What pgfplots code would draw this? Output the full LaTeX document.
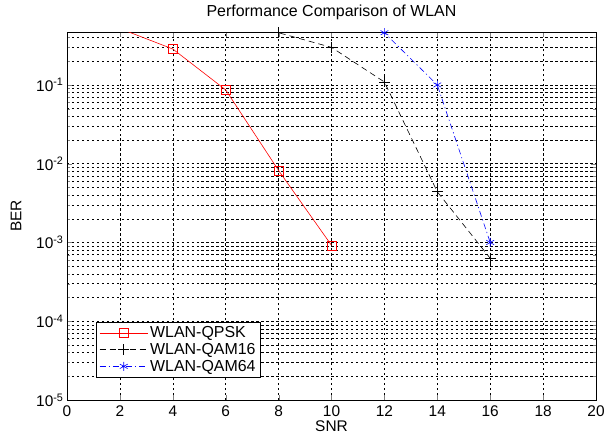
\documentclass[border=0pt]{standalone}
\usepackage{fontspec}
\setmainfont{Liberation Sans}
\usepackage{pgfplots}
\pgfplotsset{compat=1.18}
\begin{document}
\begin{tikzpicture}
\begin{axis}[
  at={(67bp,35bp)}, anchor=south west,
  scale only axis, width=529bp, height=368bp,
  tick label style={font=\fontsize{15.5}{17}\selectfont},
  label style={font=\fontsize{15.5}{17}\selectfont},
  title style={font=\fontsize{16}{18}\selectfont},
  ymode=log,
  xmin=0, xmax=20, ymin=1e-5, ymax=0.47,
  xtick={0,2,...,20},
  /pgf/number format/assume math mode=true,
  ytick={1e-5,1e-4,1e-3,1e-2,1e-1},
  yticklabels={10\textsuperscript{-5},10\textsuperscript{-4},10\textsuperscript{-3},10\textsuperscript{-2},10\textsuperscript{-1}},
  minor ytick={2e-5,3e-5,4e-5,5e-5,6e-5,7e-5,8e-5,9e-5,
               2e-4,3e-4,4e-4,5e-4,6e-4,7e-4,8e-4,9e-4,
               2e-3,3e-3,4e-3,5e-3,6e-3,7e-3,8e-3,9e-3,
               2e-2,3e-2,4e-2,5e-2,6e-2,7e-2,8e-2,9e-2,
               0.2,0.3,0.4},
  xmajorgrids, ymajorgrids, yminorgrids,
  grid style={black, line width=0.45pt, dash pattern=on 2.5pt off 2.5pt},
  minor grid style={black, line width=0.45pt, dash pattern=on 2.5pt off 2.5pt},
  tick align=inside,
  major tick length=5bp, minor tick length=3bp,
  axis line style={black, line width=0.6pt},
  xticklabel style={yshift=-2bp},
  title={Performance Comparison of WLAN},
  title style={at={(axis description cs:0.5,1)}, anchor=base, yshift=9.5bp},
  xlabel={SNR}, ylabel={BER},
  xlabel style={at={(axis description cs:0.5,-0.086)}, anchor=base},
  ylabel style={at={(axis description cs:-0.0964,0.5)}, anchor=center},
  legend style={at={(axis description cs:0.055,0.06)}, anchor=south west,
    draw=black, line width=0.6pt, fill=white, inner sep=3pt,
    row sep=0pt, font=\fontsize{16}{18}\selectfont},
  legend cell align=left,
  legend image code/.code={
    \draw[mark repeat=2,mark phase=2] plot coordinates {(0cm,0cm) (0.85cm,0cm) (1.7cm,0cm)};},
]
\addplot[red, line width=0.6pt, mark=square, mark size=4.5bp, mark options={solid}]
  coordinates {(0,0.75) (2,0.52) (4,0.286) (6,0.0865) (8,0.0082) (10,0.00092)};
\addlegendentry{WLAN-QPSK}
\addplot[black, line width=0.6pt, dash pattern=on 6pt off 4pt, mark=+, mark size=5.5bp, mark options={solid}]
  coordinates {(4,0.9) (6,0.62) (8,0.46) (10,0.30) (12,0.109) (14,0.0044) (16,0.00063)};
\addlegendentry{WLAN-QAM16}
\addplot[blue, line width=0.6pt, dash pattern=on 6pt off 3pt on 1.2pt off 3pt, mark=asterisk, mark size=4.5bp, mark options={solid}]
  coordinates {(8,0.9) (10,0.6) (12,0.46) (14,0.1) (16,0.001)};
\addlegendentry{WLAN-QAM64}
\end{axis}
\pgfresetboundingbox
\path (0,0) rectangle (605bp,435bp);
\end{tikzpicture}
\end{document}
